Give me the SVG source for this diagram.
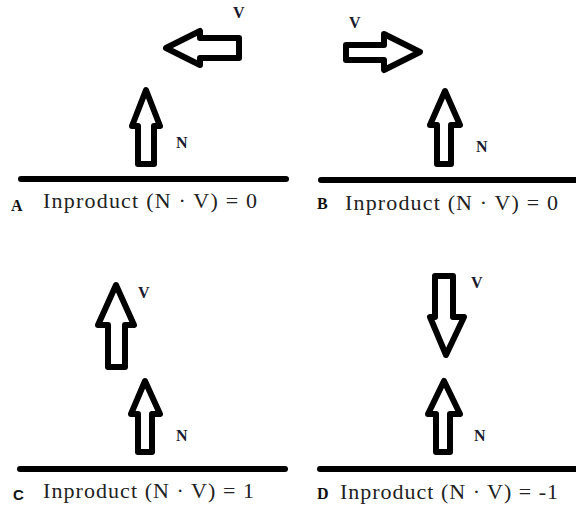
<svg xmlns="http://www.w3.org/2000/svg" width="576" height="508" viewBox="0 0 576 508">
<style>
.arr{fill:none;stroke:#000;stroke-width:6;stroke-linejoin:round}
.base{stroke:#000;stroke-width:6;stroke-linecap:round}
.lbl{font-family:"Liberation Serif",serif;font-weight:bold;font-size:16px;fill:#1a1a30}
.pl{font-family:"Liberation Serif",serif;font-weight:bold;font-size:16px;fill:#111}
.eq{font-family:"Liberation Serif",serif;font-size:22px;fill:#222}
</style>
<rect width="576" height="508" fill="#fff"/>
<g id="connectors">
<line class="base" x1="21" y1="179" x2="286" y2="179"/>
<line class="base" x1="321" y1="180" x2="580" y2="180"/>
<line class="base" x1="20" y1="469" x2="285" y2="469"/>
<line class="base" x1="320" y1="469" x2="580" y2="469"/>
</g>
<g id="panelA">
<path class="arr" d="M146,90 L160,126 L154,126 L154,164 L138,164 L138,126 L132,126 Z"/>
<path class="arr" d="M166,48 L200,31 L200,38 L239,38 L239,58 L200,58 L200,65 Z"/>
<text class="lbl" x="176" y="148">N</text>
<text class="lbl" x="233" y="18">V</text>
<text class="pl" x="11" y="211">A</text>
<text class="eq" x="43" y="208" textLength="214" lengthAdjust="spacing">Inproduct (N · V) = 0</text>
</g>
<g id="panelB">
<path class="arr" d="M445,91 L460,125 L451,125 L451,164 L437,164 L437,125 L430,125 Z"/>
<path class="arr" d="M346,45 L384,45 L384,34 L420,52 L384,70 L384,60 L346,60 Z"/>
<text class="lbl" x="476" y="152">N</text>
<text class="lbl" x="349" y="28">V</text>
<text class="pl" x="317" y="209">B</text>
<text class="eq" x="345" y="210" textLength="213" lengthAdjust="spacing">Inproduct (N · V) = 0</text>
</g>
<g id="panelC">
<path class="arr" d="M145,381 L160,414 L152,414 L152,452 L138,452 L138,414 L131,414 Z"/>
<path class="arr" d="M116,285 L134,325 L125,325 L125,367 L108,367 L108,325 L98,325 Z"/>
<text class="lbl" x="176" y="441">N</text>
<text class="lbl" x="138" y="298">V</text>
<text x="13" y="500" style="font-family:'Liberation Sans',sans-serif;font-weight:bold;font-size:15px;fill:#111">C</text>
<text class="eq" x="43" y="498" textLength="211" lengthAdjust="spacing">Inproduct (N · V) = 1</text>
</g>
<g id="panelD">
<path class="arr" d="M435,276 L453,276 L453,317 L464,317 L446,355 L430,317 L435,317 Z"/>
<path class="arr" d="M444,381 L460,414 L450,414 L450,452 L436,452 L436,414 L428,414 Z"/>
<text class="lbl" x="474" y="441">N</text>
<text class="lbl" x="471" y="288">V</text>
<text class="pl" x="317" y="499">D</text>
<text class="eq" x="340" y="499" textLength="218" lengthAdjust="spacing">Inproduct (N · V) = -1</text>
</g>
</svg>
